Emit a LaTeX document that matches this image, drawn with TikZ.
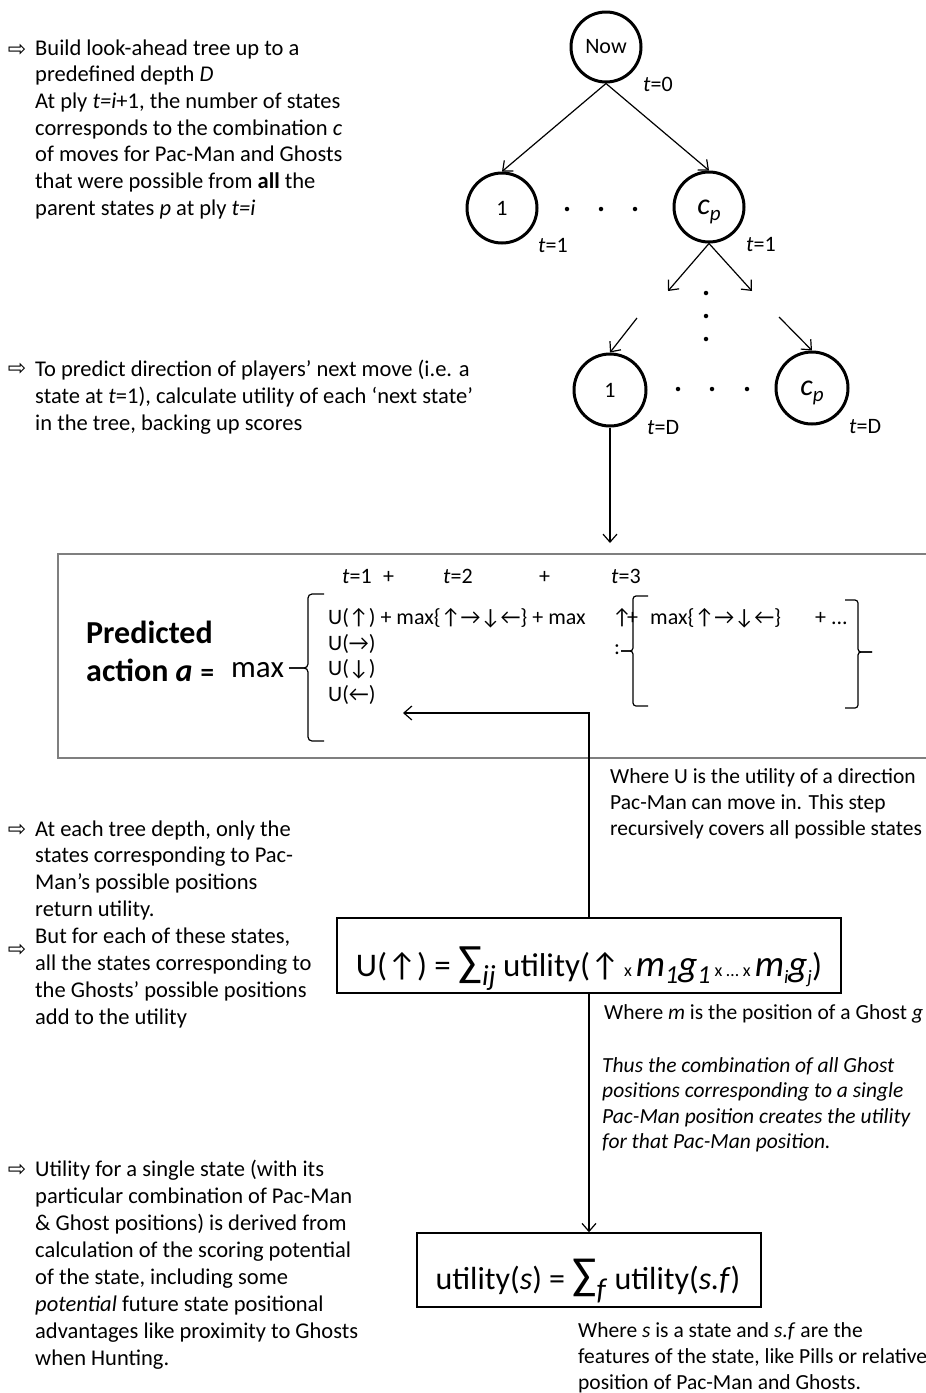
\documentclass[tikz,border=0pt]{standalone}
\usepackage{fontspec}
\setmainfont{Carlito}
\newfontfamily\dvs{DejaVu Sans}
\usetikzlibrary{arrows.meta}
\definecolor{boxgray}{RGB}{127,127,127}
\newcommand\fsz[2]{{\fontsize{#1}{#1}\selectfont #2}}
\newcommand\cpsub{\raisebox{-3pt}{\textit{\fsz{30}{c}\smash{\raisebox{-6pt}{\fsz{21}{p}}}}}}
\tikzset{
 conn/.style={line width=1.2pt, -{Straight Barb[length=8pt,width=14pt]}},
 state/.style={draw, circle, line width=3pt, minimum size=70pt, inner sep=0pt, font=\fontsize{22}{26}\selectfont},
 dotm/.style={circle, fill, inner sep=0pt, minimum size=4.5pt},
 lbl/.style={inner sep=0pt, anchor=base west, font=\fontsize{22}{26}\selectfont},
 rowtxt/.style={inner sep=0pt, anchor=base west, font=\fontsize{22}{26}\selectfont},
 body/.style={inner sep=0pt, anchor=north west, align=left, font=\fontsize{22.5}{26.7}\selectfont},
 note/.style={inner sep=0pt, anchor=north west, align=left, font=\fontsize{21.5}{26}\selectfont},
 bullet/.style={inner sep=0pt, font=\dvs\fontsize{22}{22}\selectfont},
 fbox/.style={draw, line width=1.5pt, inner sep=0pt},
 brace/.style={line width=1.2pt, rounded corners=4pt},
}
\begin{document}
\begin{tikzpicture}[x=1pt,y=-1pt]
\useasboundingbox (0,0) rectangle (926,1393);
% ---------- left texts ----------
\node[bullet] (b1) at (17,50) {⇨};
\node[body] (tx1) at (35,36.3) {\strut Build look-ahead tree up to a\\ predefined depth \textit{D}\\ At ply \textit{t=i}+1, the number of states\\ corresponds to the combination \textit{c}\\ of moves for Pac-Man and Ghosts\\ that were possible from \textbf{all} the\\ parent states \textit{p} at ply \textit{t=i}};
\node[bullet] (b2) at (17,369) {⇨};
\node[body, font=\fontsize{22.5}{27}\selectfont] (tx2) at (35,357.4) {\strut To predict direction of players’ next move (i.e. a\\ state at \textit{t}=1), calculate utility of each ‘next state’\\ in the tree, backing up scores};
\node[bullet] (b3) at (17,830) {⇨};
\node[bullet] (b4) at (17,950) {⇨};
\node[body, font=\fontsize{22.5}{26.9}\selectfont] (tx3) at (35,817) {\strut At each tree depth, only the\\ states corresponding to Pac-\\ Man’s possible positions\\ return utility.\\ But for each of these states,\\ all the states corresponding to\\ the Ghosts’ possible positions\\ add to the utility};
\node[bullet] (b5) at (17,1170) {⇨};
\node[body, font=\fontsize{22.5}{27}\selectfont] (tx4) at (35,1157) {\strut Utility for a single state (with its\\ particular combination of Pac-Man\\ \& Ghost positions) is derived from\\ calculation of the scoring potential\\ of the state, including some\\ \textit{potential} future state positional\\ advantages like proximity to Ghosts\\ when Hunting.};
% ---------- tree ----------
\node[state] (now) at (606,47) {Now};
\node[lbl] (t0) at (643,91) {\textit{t}=0};
\node[state] (c1) at (502,208) {1};
\node[state] (cp) at (709,207) {\cpsub};
\node[dotm] (h1) at (567,209) {};
\node[dotm] (h2) at (601,209) {};
\node[dotm] (h3) at (635,209) {};
\node[lbl] (t1a) at (538,252) {\textit{t}=1};
\node[lbl] (t1b) at (746,251) {\textit{t}=1};
\draw[conn] (now.south) -- (c1.north);
\draw[conn] (now.south) -- (cp.north);
\coordinate (cpl) at (668,291);
\coordinate (cpr) at (752,291);
\draw[conn] (cp.south) -- (cpl);
\draw[conn] (cp.south) -- (cpr);
\node[dotm] (v1) at (706,293) {};
\node[dotm] (v2) at (706,316) {};
\node[dotm] (v3) at (706,339) {};
\coordinate (dl) at (637,318);
\coordinate (dr) at (779,317);
\node[state, minimum size=72pt] (d1) at (610,390) {1};
\node[state, minimum size=72pt] (dc) at (812,388) {\cpsub};
\draw[conn] (dl) -- (d1.north);
\draw[conn] (dr) -- (dc.north);
\node[dotm] (h4) at (678,389) {};
\node[dotm] (h5) at (712,389) {};
\node[dotm] (h6) at (747,389) {};
\node[lbl] (tda) at (647,434) {\textit{t}=D};
\node[lbl] (tdb) at (849,433) {\textit{t}=D};
\coordinate (pin) at (610,543);
\draw[conn] (d1.south) -- (pin);
% ---------- predicted action box ----------
\node[fbox, draw=boxgray, anchor=north west, minimum width=900pt, minimum height=204pt] (pbox) at (57,553) {};
\node[lbl, font=\bfseries\fontsize{32}{38}\selectfont] (pred) at (86,643) {Predicted};
\node[lbl, font=\bfseries\fontsize{32}{38}\selectfont] (act) at (86,681) {action \textit{a}\kern8pt{\fontsize{27}{27}\selectfont =}};
\node[lbl, font=\fontsize{31}{31}\selectfont] (mx) at (231,677) {max};
\draw[brace] (324,594) -- (308,594) -- (308,668) -- (289,668);
\draw[brace] (289,668) -- (308,668) -- (308,741) -- (324,741);
\node[rowtxt] (hd1) at (342,583) {\textit{t}=1};
\node[rowtxt] (hdp1) at (383,583) {+};
\node[rowtxt] (hd2) at (443,583) {\textit{t}=2};
\node[rowtxt] (hdp2) at (539,583) {+};
\node[rowtxt] (hd3) at (611,583) {\textit{t}=3};
\node[rowtxt] (r1) at (328,624) {U(↑) + max\{↑→↓←\} + max};
\node[rowtxt] (r2) at (328,650) {U(→)};
\node[rowtxt] (r3) at (328,675) {U(↓)};
\node[rowtxt] (r4) at (328,701) {U(←)};
\node[rowtxt] (r1b) at (612,624) {↑};
\node[rowtxt] (r1p) at (627,624) {+};
\node[rowtxt] (r1c) at (650,624) {max\{↑→↓←\}};
\node[rowtxt] (r1d) at (815,624) {+ ...};
\node[rowtxt] (colon) at (614,654) {:};
\draw[brace, rounded corners=3pt] (648,596) -- (633,596) -- (633,651) -- (621,651);
\draw[brace, rounded corners=3pt] (621,651) -- (633,651) -- (633,706) -- (648,706);
\draw[brace, rounded corners=3pt] (845,600) -- (858,600) -- (858,652) -- (872,652);
\draw[brace, rounded corners=3pt] (872,652) -- (858,652) -- (858,708) -- (845,708);
% ---------- notes ----------
\node[note] (nu) at (610,764.8) {\strut Where U is the utility of a direction\\ Pac-Man can move in. This step\\ recursively covers all possible states};
% ---------- U box ----------
\node[fbox, minimum width=504pt, minimum height=75pt] (ubox) at (589,955.5) {};
\node[inner sep=0pt, anchor=base] (uform) at (589,976) {\fsz{33}{U(↑) = }\fsz{44}{∑}\raisebox{-9pt}{\fsz{29}{\textit{ij}}}\fsz{33}{ utility(↑}\fsz{18}{ x }\fsz{37}{\textit{m}}\raisebox{-7pt}{\fsz{26}{\textit{1}}}\fsz{37}{\textit{g}}\raisebox{-7pt}{\fsz{26}{\textit{1}}}\fsz{18}{ x … x }\fsz{37}{\textit{m}}\raisebox{-7pt}{\fsz{19}{\textit{i}}}\fsz{37}{\textit{g}}\raisebox{-7pt}{\fsz{19}{\textit{j}}}\fsz{33}{)}};
\coordinate (back) at (403,713);
\draw[conn] (ubox.north) |- (back);
\node[rowtxt, font=\fontsize{21.5}{21.5}\selectfont] (nm) at (604,1019) {Where \textit{m} is the position of a Ghost \textit{g}};
\node[note, font=\itshape\fontsize{21.5}{25.5}\selectfont] (nthus) at (602,1054) {\strut Thus the combination of all Ghost\\ positions corresponding to a single\\ Pac-Man position creates the utility\\ for that Pac-Man position.};
% ---------- utility box ----------
\node[fbox, minimum width=344pt, minimum height=74pt] (utilbox) at (589,1270) {};
\node[inner sep=0pt, anchor=base] (utext) at (588,1289) {\fsz{32}{utility(\textit{s}) = }\fsz{45}{∑}\raisebox{-10pt}{\fsz{30}{\textit{f}}}\fsz{32}{ utility(\textit{s.f})}};
\draw[conn] (ubox.south) -- (utilbox.north);
\node[note] (ns) at (578,1319.5) {\strut Where \textit{s} is a state and \textit{s.f} are the\\ features of the state, like Pills or relative\\ position of Pac-Man and Ghosts.};
\end{tikzpicture}
\end{document}
